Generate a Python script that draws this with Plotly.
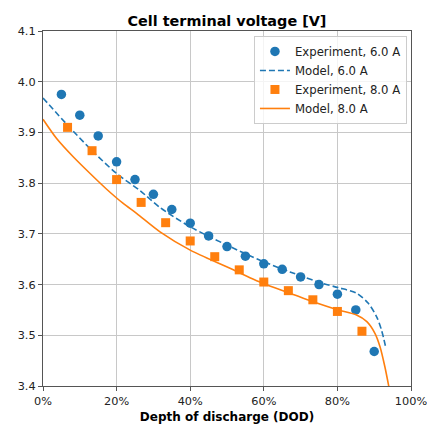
import plotly.graph_objects as go

# Experimental data
exp6_dod = [0.05, 0.10, 0.15, 0.20, 0.25, 0.30, 0.35, 0.40, 0.45, 0.50, 0.55, 0.60, 0.65, 0.70, 0.75, 0.80, 0.85, 0.90]
exp6_v = [3.975, 3.934, 3.893, 3.842, 3.807, 3.778, 3.748, 3.721, 3.696, 3.675, 3.656, 3.641, 3.630, 3.615, 3.600, 3.581, 3.550, 3.468]

exp8_dod = [0.0667, 0.1333, 0.2, 0.2667, 0.3333, 0.4, 0.4667, 0.5333, 0.6, 0.6667, 0.7333, 0.8, 0.8667]
exp8_v = [3.910, 3.864, 3.807, 3.762, 3.722, 3.686, 3.655, 3.629, 3.605, 3.588, 3.570, 3.547, 3.508]

# Model curves
mod6_dod = [0.0, 0.066, 0.132, 0.20, 0.264, 0.318, 0.40, 0.499, 0.59, 0.671, 0.762, 0.802, 0.852, 0.884, 0.907, 0.92, 0.932]
mod6_v = [3.968, 3.915, 3.865, 3.819, 3.785, 3.752, 3.714, 3.678, 3.648, 3.625, 3.602, 3.594, 3.583, 3.563, 3.536, 3.510, 3.474]

mod8_dod = [0.0, 0.037, 0.082, 0.128, 0.173, 0.218, 0.255, 0.318, 0.40, 0.499, 0.599, 0.671, 0.734, 0.802, 0.852, 0.88, 0.902, 0.916, 0.929, 0.94]
mod8_v = [3.926, 3.888, 3.852, 3.819, 3.788, 3.760, 3.740, 3.704, 3.668, 3.635, 3.602, 3.583, 3.566, 3.550, 3.540, 3.527, 3.504, 3.477, 3.438, 3.398]

blue = "#1f77b4"
orange = "#ff7f0e"
font = "DejaVu Sans"

fig = go.Figure()
fig.add_trace(go.Scatter(x=exp6_dod, y=exp6_v, mode="markers", name="Experiment, 6.0 A",
                         marker=dict(color=blue, size=9.5, symbol="circle", line=dict(width=0))))
fig.add_trace(go.Scatter(x=mod6_dod, y=mod6_v, mode="lines", name="Model, 6.0 A",
                         line=dict(color=blue, width=1.6, dash="6px,3px", shape="spline", smoothing=0.8)))
fig.add_trace(go.Scatter(x=exp8_dod, y=exp8_v, mode="markers", name="Experiment, 8.0 A",
                         marker=dict(color=orange, size=9, symbol="square", line=dict(width=0))))
fig.add_trace(go.Scatter(x=mod8_dod, y=mod8_v, mode="lines", name="Model, 8.0 A",
                         line=dict(color=orange, width=1.6, shape="spline", smoothing=0.8)))

axis_common = dict(showline=True, linecolor="#555555", linewidth=1.2, mirror=True,
                   showgrid=True, gridcolor="#c8c8c8", gridwidth=1,
                   ticks="outside", ticklen=4, tickcolor="#555555", zeroline=False,
                   automargin=False, ticklabeloverflow="allow",
                   tickfont=dict(family=font, size=11.3, color="#222222"))

fig.update_layout(
    width=427, height=424,
    margin=dict(l=43, r=16, t=31, b=38),
    paper_bgcolor="white", plot_bgcolor="white",
    title=dict(text="<b>Cell terminal voltage [V]</b>", x=0.5, xanchor="center",
               xref="paper", yref="container", y=0.950, yanchor="middle",
               font=dict(family=font, size=14.4, color="black")),
    xaxis=dict(range=[0, 1], tickvals=[0, 0.2, 0.4, 0.6, 0.8, 1.0], tickformat=".0%",
               title=dict(text="<b>Depth of discharge (DOD)</b>", standoff=5,
                          font=dict(family=font, size=12, color="black")),
               **axis_common),
    yaxis=dict(range=[3.4, 4.1], tickvals=[3.4, 3.5, 3.6, 3.7, 3.8, 3.9, 4.0, 4.1], tickformat=".1f",
               **axis_common),
    legend=dict(x=0.989, y=0.986, xanchor="right", yanchor="top",
                bgcolor="rgba(255,255,255,0.8)", bordercolor="#cccccc", borderwidth=1,
                font=dict(family=font, size=11.7, color="#222222"),
                itemwidth=30, tracegroupgap=0),
    showlegend=True,
)

fig.write_html("out.html")
